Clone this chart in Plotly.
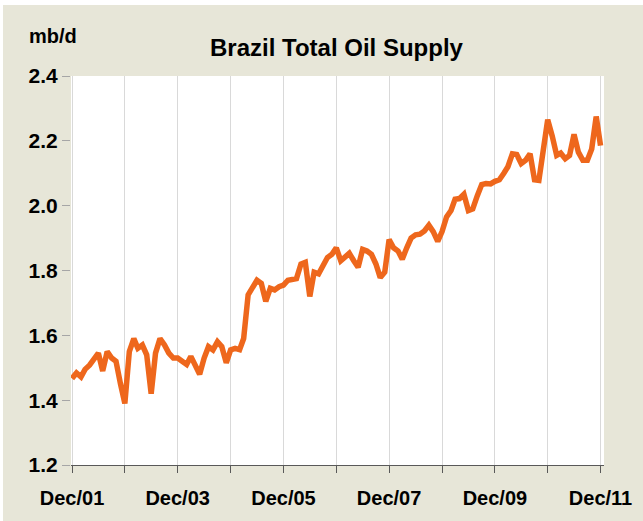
import pandas as pd
import plotly.graph_objects as go

# Monthly Brazil total oil supply, mb/d, Dec 2001 .. Dec 2011
supply = [
    1.467, 1.484, 1.472, 1.495, 1.508, 1.525, 1.545, 1.490, 1.550, 1.530, 1.520, 1.450,
    1.390, 1.550, 1.590, 1.560, 1.570, 1.540, 1.420, 1.545, 1.590, 1.570, 1.545, 1.530,
    1.530, 1.520, 1.510, 1.535, 1.510, 1.480, 1.530, 1.565, 1.555, 1.580, 1.565, 1.515,
    1.555, 1.560, 1.556, 1.590, 1.725, 1.750, 1.770, 1.760, 1.705, 1.745, 1.740, 1.750,
    1.755, 1.770, 1.775, 1.775, 1.820, 1.825, 1.720, 1.795, 1.790, 1.815, 1.840, 1.850,
    1.870, 1.830, 1.840, 1.853, 1.830, 1.810, 1.865, 1.860, 1.850, 1.820, 1.778, 1.795,
    1.895, 1.870, 1.860, 1.835, 1.870, 1.900, 1.910, 1.912, 1.922, 1.940, 1.920, 1.890,
    1.920, 1.965, 1.985, 2.020, 2.022, 2.035, 1.985, 1.990, 2.030, 2.065, 2.068, 2.067,
    2.075, 2.080, 2.100, 2.120, 2.160, 2.158, 2.130, 2.140, 2.160, 2.080, 2.078, 2.170,
    2.265, 2.215, 2.155, 2.162, 2.145, 2.155, 2.220, 2.165, 2.140, 2.140, 2.175, 2.275,
    2.185,
]
months = pd.date_range("2001-12-01", periods=len(supply), freq="MS")

year_ticks = pd.date_range("2001-12-01", "2011-12-01", freq="12MS")
tick_labels = ["Dec/01", "", "Dec/03", "", "Dec/05", "", "Dec/07", "", "Dec/09", "", "Dec/11"]
y_ticks = [1.2, 1.4, 1.6, 1.8, 2.0, 2.2, 2.4]

title_text = "Brazil Total Oil Supply"
unit_text = "mb/d"

BEIGE = "#E7E6D8"
ORANGE = "#EE671C"

fig = go.Figure()
fig.add_trace(go.Scatter(
    x=months, y=supply, mode="lines",
    line=dict(color=ORANGE, width=5.5),
    hoverinfo="x+y", showlegend=False,
))

fig.update_layout(
    width=643, height=521,
    margin=dict(l=71, r=39, t=76, b=56),
    paper_bgcolor=BEIGE,
    plot_bgcolor="white",
    font=dict(family="Liberation Sans, Arial, sans-serif", color="black"),
    shapes=[
        # thin white frame strips at the top and left of the picture
        dict(type="rect", xref="paper", yref="paper", layer="below",
             x0=(0 - 71) / 533, x1=(643 - 71) / 533,
             y0=(465 - 5) / 389, y1=(465 - 0) / 389,
             fillcolor="white", line=dict(width=0)),
        dict(type="rect", xref="paper", yref="paper", layer="below",
             x0=(0 - 71) / 533, x1=(3 - 71) / 533,
             y0=(465 - 521) / 389, y1=(465 - 0) / 389,
             fillcolor="white", line=dict(width=0)),
    ],
    annotations=[
        dict(text=title_text, xref="paper", yref="paper",
             x=(337 - 71) / 533, y=(465 - 48) / 389,
             xanchor="center", yanchor="middle", showarrow=False,
             font=dict(size=24, weight="bold")),
        dict(text=unit_text, xref="paper", yref="paper",
             x=(53 - 71) / 533, y=(465 - 36) / 389,
             xanchor="center", yanchor="middle", showarrow=False,
             font=dict(size=20, weight="bold")),
    ],
)

fig.update_xaxes(
    range=["2001-11-24", "2011-12-25"],
    tickvals=year_ticks, ticktext=tick_labels,
    ticks="outside", ticklen=7, tickcolor="#595959", tickwidth=1,
    showline=True, linecolor="#595959", linewidth=1,
    showgrid=True, gridcolor="#D9D9D9", gridwidth=1,
    tickfont=dict(size=20, weight="bold"),
    ticklabelstandoff=8,
    zeroline=False,
)
fig.update_yaxes(
    range=[1.2, 2.4],
    tickvals=y_ticks, tickformat=".1f",
    ticks="outside", ticklen=8, tickcolor="#A6A6A6", tickwidth=1,
    showline=False, showgrid=False, zeroline=False,
    tickfont=dict(size=21, weight="bold"),
)

fig.write_html(
    "out.html",
    config={"displayModeBar": False},
    post_script="document.body.style.margin='0';document.body.style.overflow='hidden';",
)
